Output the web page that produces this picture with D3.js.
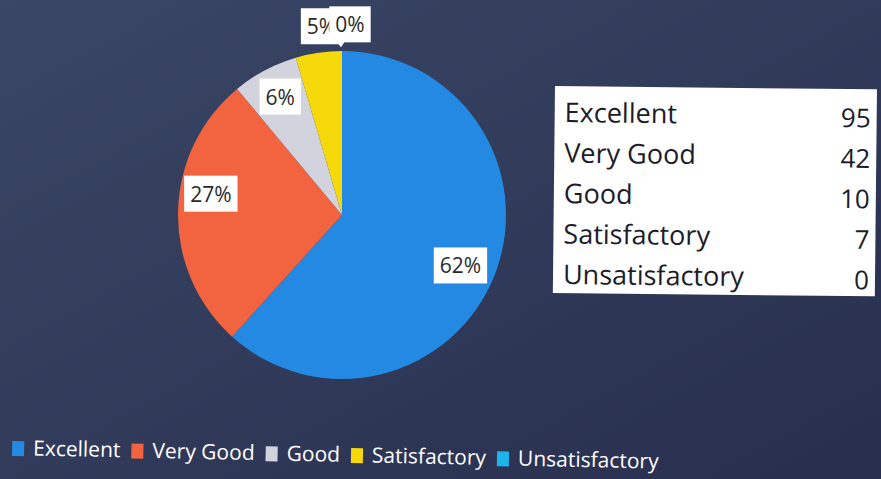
<!DOCTYPE html>
<html><head><meta charset="utf-8">
<script src="https://cdn.jsdelivr.net/npm/d3@7"></script>
<style>body{margin:0;background:#2e3857;}svg{display:block;}</style>
</head><body>
<svg id="c" width="881" height="479"></svg>
<script>
const categories = ["Excellent","Very Good","Good","Satisfactory","Unsatisfactory"];
const values = [95,42,10,7,0];
const colors = ["#2389e2","#f2633f","#d3d3de","#f5d90a","#1db4ee"];

const W=881,H=479;
const svg=d3.select("#c");
const defs=svg.append("defs");
const g0=defs.append("linearGradient").attr("id","bg").attr("x1","0").attr("y1","0").attr("x2","1").attr("y2","1");
g0.append("stop").attr("offset","0").attr("stop-color","#3a4766");
g0.append("stop").attr("offset","1").attr("stop-color","#282e4e");
svg.append("rect").attr("width",W).attr("height",H).attr("fill","url(#bg)");

const cx=342, cy=215, R=164;
const total=d3.sum(values);
const pie=d3.pie().sort(null).value(d=>d)(values);
const arc=d3.arc().innerRadius(0).outerRadius(R);
const gp=svg.append("g").attr("transform",`translate(${cx},${cy})`);
gp.selectAll("path").data(pie).join("path").attr("d",arc).attr("fill",(d,i)=>colors[i]);

const pct=v=>Math.round(v/total*100)+"%";
const font="'Open Sans', 'Noto Sans', sans-serif";
// label placement tweaks (layout only)
const nudge=[[-4,4],[0,-18],[0,-2],[6,-4],[8,-4]];
pie.forEach((d,i)=>{
  const a=(d.startAngle+d.endAngle)/2;
  const frac=values[i]/total;
  const outside=frac<0.055;
  const r=outside?R+22:R*0.8;
  let x=Math.sin(a)*r+nudge[i][0], y=-Math.cos(a)*r+nudge[i][1];
  const lg=gp.append("g").attr("transform",`translate(${x},${y})`);
  const t=lg.append("text").attr("text-anchor","middle").attr("dy","0.35em")
    .attr("font-family",font).attr("font-size",21).attr("fill","#2a2a2a").text(pct(values[i]));
  const bb=t.node().getBBox();
  const padX=6,padY=5;
  lg.insert("rect","text").attr("x",bb.x-padX).attr("y",bb.y-padY+1).attr("width",bb.width+2*padX).attr("height",bb.height+2*padY-2).attr("fill","#fff");
  if(outside && values[i]===0){
    const by=bb.y-padY+1+bb.height+2*padY-2;
    lg.append("path").attr("d",`M${-14},${by-1}L${-9},${by+5}L${-5},${by-1}Z`).attr("fill","#fff");
  }
});

// data table
const tg=svg.append("g").attr("transform","translate(555,86) rotate(0.6)");
const rowH=40.5;
tg.append("rect").attr("x",0).attr("y",0).attr("width",322).attr("height",207).attr("fill","#ffffff");
categories.forEach((c,i)=>{
  tg.append("text").attr("x",10).attr("y",36+i*rowH).attr("font-family",font).attr("font-size",27).attr("fill","#1c1c2a").text(c);
  tg.append("text").attr("x",316).attr("y",38+i*rowH).attr("text-anchor","end").attr("font-family",font).attr("font-size",26).attr("fill","#1c1c2a").text(values[i]);
});

// legend
const leg=svg.append("g").attr("transform","translate(12,455) rotate(1.2)");
let lx=0;
categories.forEach((c,i)=>{
  leg.append("rect").attr("x",lx).attr("y",-14).attr("width",12).attr("height",15).attr("fill",colors[i]);
  const t=leg.append("text").attr("x",lx+21).attr("y",0).attr("font-family",font).attr("font-size",21).attr("fill","#ffffff").text(c);
  lx+=21+t.node().getComputedTextLength()+11;
});
</script>
</body></html>
